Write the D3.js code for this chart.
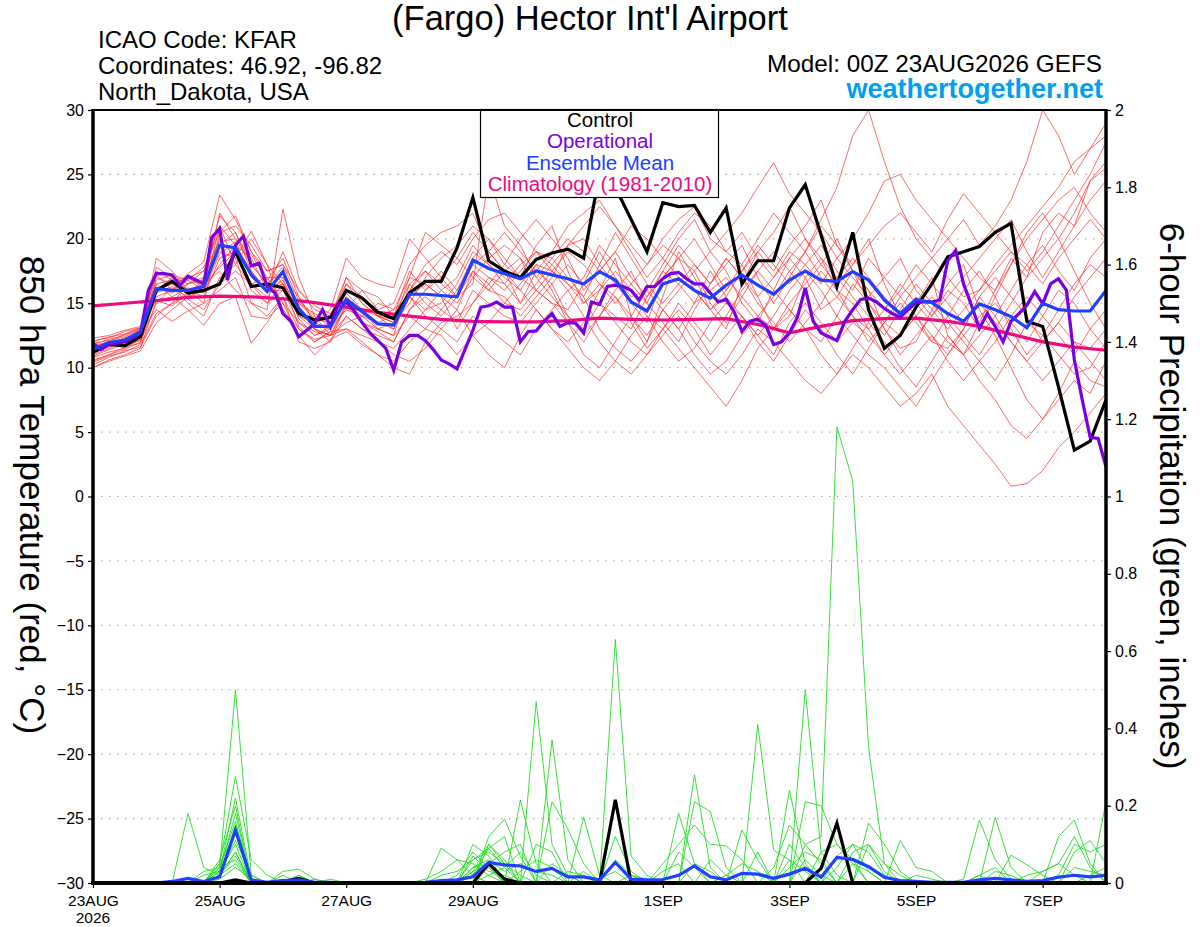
<!DOCTYPE html>
<html>
<head>
<meta charset="utf-8">
<script src="https://d3js.org/d3.v7.min.js"></script>
<style>
body { margin: 0; background: #fff; }
svg { font-family: "Liberation Sans", Arial, Helvetica, sans-serif; }
</style>
</head>
<body>
<div id="chart"></div>
<script>
// axis ticks
const tempTicks = [-30, -25, -20, -15, -10, -5, 0, 5, 10, 15, 20, 25, 30];
const precipTicks = [0, 0.2, 0.4, 0.6, 0.8, 1, 1.2, 1.4, 1.6, 1.8, 2];
const dateTicks = ["2026-08-23", "2026-08-25", "2026-08-27", "2026-08-29", "2026-09-01", "2026-09-03", "2026-09-05", "2026-09-07"];
const dateLabels = ["23AUG", "25AUG", "27AUG", "29AUG", "1SEP", "3SEP", "5SEP", "7SEP"];

// 6-hourly control run, 850 hPa temperature (C)
const controlTemp = [11.2,11.8,11.7,12.4, 16.0,16.7,15.8,16.0, 16.5,19.0,16.3,16.5, 16.2,14.2,13.7,13.9,
  16.0,15.4,14.3,13.8, 15.8,16.7,16.7,19.3, 23.2,18.3,17.5,17.0, 18.4,18.9,19.2,18.5,
  25.0,24.0,21.5,19.0, 22.8,22.5,22.6,20.5, 22.4,16.5,18.3,18.3, 22.4,24.2,20.3,16.3,
  20.5,14.5,11.5,12.5, 14.7,16.5,18.6,19.0, 19.4,20.5,21.2,13.6, 13.2,8.5,3.6,4.3, 7.5];

// 6-hourly ensemble mean temperature
const meanTemp = [11.4,11.95,12.15,12.8, 16.15,16.0,16.0,16.3, 19.5,19.3,17.2,15.9, 17.45,14.6,13.2,13.2,
  15.3,14.35,13.4,13.3, 15.7,15.7,15.6,15.5, 18.35,17.7,17.3,16.9, 17.5,17.2,16.9,16.5,
  17.45,16.8,15.1,14.4, 16.5,16.9,16.0,15.4, 16.4,17.2,16.4,15.7, 16.8,17.5,16.8,16.7,
  17.45,16.8,15.25,14.2, 15.3,15.05,14.2,13.6, 14.95,14.5,13.96,13.1, 15.0,14.5,14.4,14.4, 16.0];

// 3-hourly operational run temperature
const operationalTemp = [11.9,11.4,11.8,11.9,12.0,12.3,12.7,16.0, 17.3,17.3,17.2,16.4,17.1,16.8,16.5,20.1,
  20.8,16.8,19.5,20.2,17.9,18.1,16.3,15.8, 14.2,13.6,12.4,12.9,13.4,14.5,13.2,15.0,
  15.1,14.4,13.5,12.7,12.1,11.5,9.8,12.0, 12.5,12.5,12.1,11.4,10.6,10.3,9.9,11.4,
  12.9,14.7,14.8,15.1,14.7,14.7,12.0,12.8, 12.85,13.6,14.2,13.2,13.5,13.45,12.7,15.1,
  14.9,16.3,16.4,16.3,16.0,15.25,16.3,16.3, 16.9,17.3,17.4,16.9,16.5,16.5,15.8,15.1,
  15.3,14.35,12.8,13.6,13.75,13.3,11.8,12.0, 12.7,13.9,16.2,13.6,12.7,12.4,12.1,13.6,
  14.5,15.3,15.4,15.1,14.6,14.2,13.9,14.5, 15.05,15.1,15.1,15.25,18.3,19.1,16.5,14.85,
  13.05,14.2,13.2,12.0,13.6,14.2,14.85,15.9, 14.95,16.5,16.9,16.0,10.6,7.5,4.6,4.5, 2.3];

// 12-hourly climatology (1981-2010)
const climoTemp = [14.8,15.0,15.2,15.45,15.55,15.5,15.35,15.05, 14.7,14.3,14.0,13.75,13.6,13.55,13.55,13.65,
  13.85,13.75,13.7,13.75,13.8,13.35,12.7,13.2, 13.65,13.8,13.85,13.6,13.2,12.6,12.0,11.6, 11.35];

// 6-hourly ensemble members, temperature
const tempMembers = [
  [10.5,11.0,11.4,12.0, 15.0,16.2,15.5,17.0, 21.8,20.5,18.0,16.5, 17.8,14.0,13.0,12.5, 14.8,13.5,12.8,12.0, 14.5,16.0,17.5,16.0, 18.5,20.0,18.5,17.0, 19.5,21.0,17.5,15.0, 16.0,18.5,14.0,12.0, 15.5,19.0,17.0,14.5, 13.0,16.5,19.0,17.5, 19.5,21.0,23.0,19.5, 18.0,20.0,16.5,14.0, 15.0,17.0,12.5,11.0, 13.5,16.0,18.5,17.0, 20.5,22.0,21.0,24.5, 26.0],
  [11.8,12.2,12.5,13.0, 17.5,16.8,16.0,15.5, 18.5,19.0,16.0,15.0, 16.0,13.5,12.5,13.0, 15.5,14.5,13.0,12.5, 16.5,17.5,16.0,15.0, 17.0,16.0,15.5,14.0, 15.5,17.0,19.5,20.0, 18.0,16.5,15.0,13.5, 17.0,18.5,16.0,14.5, 16.0,18.0,15.5,13.0, 14.0,17.0,18.5,16.0, 15.0,13.0,11.0,12.5, 14.0,12.0,11.5,13.0, 15.5,14.0,12.0,10.5, 9.0,10.5,12.0,11.5, 13.0],
  [10.2,10.8,11.3,11.6, 14.0,15.0,16.5,16.8, 20.0,18.5,20.6,18.0, 16.5,15.0,14.2,13.5, 17.0,16.0,14.5,15.0, 18.0,19.5,20.5,21.0, 22.0,19.0,17.5,18.5, 16.0,15.0,14.5,16.5, 19.0,17.0,15.5,16.0, 18.0,20.0,21.5,19.0, 17.5,15.0,13.5,16.0, 18.5,17.0,14.5,15.5, 17.5,16.0,13.0,11.5, 12.0,14.5,16.5,18.0, 14.5,12.5,10.0,7.5, 6.0,8.0,10.5,9.0, 8.5],
  [11.0,11.5,12.0,12.5, 18.5,17.5,16.0,16.5, 17.5,16.0,15.0,14.5, 22.3,17.0,14.0,12.5, 13.0,12.0,11.0,10.0, 9.5,12.0,13.5,14.0, 15.0,17.0,16.5,18.0, 19.0,18.5,17.0,15.5, 13.0,11.5,10.5,12.0, 14.5,13.0,11.0,9.5, 10.5,12.5,14.0,15.5, 17.5,19.0,21.5,24.0, 28.0,30.0,26.0,22.5, 20.0,18.5,17.0,15.5, 16.0,18.0,19.5,21.0, 22.5,24.0,26.0,27.0, 28.0],
  [12.3,12.5,12.9,13.2, 16.5,15.5,14.5,13.3, 15.0,15.5,11.9,13.5, 15.5,12.0,11.5,12.0, 14.0,13.0,12.0,11.5, 13.0,14.5,15.0,16.5, 19.0,18.0,16.5,15.0, 17.5,16.5,14.0,12.5, 14.0,16.0,17.5,15.0, 13.5,12.0,14.5,16.5, 18.5,17.0,15.0,13.5, 12.0,13.5,15.0,17.0, 15.5,14.0,12.5,14.5, 16.5,15.0,13.5,12.0, 10.5,9.0,11.0,13.5, 12.5,11.0,9.5,10.0, 12.0],
  [10.8,11.2,11.5,12.2, 15.5,16.0,17.3,18.2, 23.4,21.5,19.0,17.0, 15.0,13.5,12.8,12.5, 13.5,14.0,15.0,14.5, 17.0,16.5,15.5,13.0, 15.0,16.5,18.0,20.0, 21.5,20.0,18.5,16.0, 17.5,19.0,21.0,20.0, 18.5,17.0,16.0,14.5, 15.5,17.5,19.0,20.5, 22.5,20.0,18.0,16.5, 18.0,19.5,21.0,22.0, 20.5,19.0,21.5,23.5, 22.0,20.5,19.0,17.5, 19.0,21.0,23.0,25.0, 27.5],
  [11.5,11.9,12.3,12.7, 14.5,13.6,14.4,15.0, 16.0,17.0,14.0,13.8, 15.0,12.5,11.0,12.2, 12.8,11.8,11.0,10.5, 12.0,13.0,12.5,11.0, 12.5,11.0,10.0,12.5, 14.5,13.0,11.5,10.0, 9.0,10.5,12.5,14.0, 13.0,11.5,10.0,8.5, 7.0,9.0,11.5,13.0, 14.5,13.0,11.0,9.5, 11.5,13.5,12.0,10.0, 8.5,10.5,12.5,11.0, 9.0,7.5,5.5,4.5, 6.0,7.5,9.0,8.0, 10.5],
  [12.0,12.4,12.6,13.0, 16.0,17.0,16.5,17.0, 19.5,20.5,17.5,16.0, 19.0,16.0,14.5,14.0, 16.5,15.0,14.0,13.5, 16.0,18.0,19.0,18.0, 20.0,21.5,22.0,20.5, 19.0,18.0,19.5,21.0, 22.5,21.0,19.5,18.0, 20.0,21.5,22.5,20.0, 19.0,20.5,18.5,17.0, 19.0,18.0,16.5,18.5, 20.0,22.0,24.5,25.0, 23.0,21.5,20.0,18.5, 17.0,16.0,18.0,20.0, 21.5,23.0,24.0,22.0, 20.5],
  [10.0,10.5,10.9,11.3, 13.5,14.5,15.5,16.0, 18.0,19.5,18.5,16.0, 16.5,14.5,13.0,12.5, 15.0,14.5,13.5,13.0, 15.5,14.0,13.0,12.0, 14.0,13.0,12.0,11.0, 13.0,14.5,16.0,14.0, 12.0,10.5,9.5,11.0, 12.5,14.0,12.0,10.5, 9.5,11.0,13.0,12.0, 10.5,9.0,8.0,9.5, 11.0,10.0,8.5,7.0, 8.0,9.5,7.0,5.5, 4.0,2.5,0.8,1.0, 2.0,3.8,5.0,6.5, 8.0],
  [11.3,11.7,12.0,12.4, 17.0,16.5,17.0,17.5, 21.0,18.0,16.5,15.5, 17.0,15.5,13.5,14.5, 18.5,17.0,16.5,16.2, 20.0,18.5,17.0,15.5, 16.5,24.9,21.0,19.5, 17.0,15.5,14.0,13.0, 15.0,14.0,13.0,15.5, 17.5,16.5,15.0,16.0, 17.0,15.5,14.0,13.0, 15.0,16.5,18.0,20.0, 17.5,15.0,13.0,11.0, 12.5,14.0,16.0,15.0, 13.0,15.5,18.0,20.5, 22.0,20.0,17.5,15.0, 13.0],
  [10.6,11.0,11.6,11.9, 15.8,16.3,15.0,14.0, 17.0,18.0,20.0,18.0, 14.5,13.0,12.0,12.8, 13.0,12.5,12.0,11.0, 10.5,11.5,13.0,14.5, 12.5,13.5,15.0,16.5, 18.0,16.0,13.5,11.0, 10.0,12.0,14.0,16.0, 14.5,13.0,15.0,17.5, 15.5,14.0,12.0,10.5, 12.5,14.5,13.0,11.0, 9.5,11.5,13.5,15.0, 13.5,12.0,14.0,16.0, 17.5,15.5,13.0,11.0, 12.5,14.5,16.5,18.0, 17.0],
  [11.9,12.1,12.4,12.9, 16.8,17.2,16.8,16.0, 18.8,19.8,17.0,16.0, 16.0,15.0,13.8,13.5, 15.0,13.5,13.0,13.5, 15.0,17.0,18.5,19.5, 21.0,20.0,18.0,17.0, 16.0,17.5,19.0,18.0, 16.5,15.0,16.5,18.0, 19.5,18.5,17.5,19.0, 20.5,22.0,24.0,25.9, 23.5,22.0,20.5,18.5, 17.0,15.5,17.0,18.5, 16.0,14.5,13.0,14.5, 16.0,17.5,19.0,18.0, 16.5,18.5,20.0,21.5, 20.0],
  [10.4,10.9,11.2,11.8, 14.2,15.0,15.6,16.2, 19.0,18.5,15.0,14.0, 15.5,13.0,12.2,12.5, 14.0,13.0,12.5,12.0, 14.5,15.5,14.5,13.5, 16.0,15.0,14.0,13.5, 15.0,16.5,18.0,16.5, 15.0,13.5,12.0,11.0, 13.0,15.0,13.5,12.0, 14.0,16.0,17.5,16.0, 14.5,13.0,12.0,14.0, 16.5,15.0,13.5,12.5, 14.0,15.5,14.0,12.5, 11.0,13.0,15.0,17.0, 18.5,20.0,22.0,24.5, 25.5],
  [11.2,11.6,12.0,12.5, 17.8,17.0,16.0,15.0, 20.5,21.0,19.5,17.5, 18.0,16.0,14.8,14.2, 16.0,15.5,14.0,13.5, 17.0,20.5,19.5,18.5, 17.0,18.5,19.5,18.5, 17.0,18.5,20.0,19.0, 17.5,19.0,17.0,15.5, 17.0,18.5,20.0,18.0, 16.0,17.5,19.5,18.0, 16.5,18.0,19.5,17.5, 16.0,18.5,17.0,15.5, 17.0,18.5,20.0,21.5, 19.5,21.0,23.0,26.0, 30.0,28.0,25.0,27.0, 29.0],
  [12.1,12.3,12.8,13.1, 15.2,14.8,15.8,16.5, 17.8,19.0,16.5,17.0, 17.0,13.8,12.5,13.2, 15.8,14.5,14.0,14.5, 15.5,14.5,16.0,17.0, 19.5,18.0,17.0,16.0, 14.5,13.0,12.0,13.5, 16.0,17.5,16.0,14.0, 12.0,10.5,11.5,13.5, 15.0,14.0,12.5,14.0, 16.0,17.5,16.0,14.0, 12.5,11.0,10.0,8.5, 7.0,9.0,11.0,12.5, 14.0,15.0,13.5,12.0, 14.0,16.0,15.0,13.0, 11.5],
  [10.9,11.4,11.8,12.1, 16.2,15.8,16.5,17.5, 19.8,20.0,18.8,16.8, 18.5,15.5,13.5,13.0, 14.5,16.0,15.5,14.0, 16.5,15.0,14.0,15.5, 17.5,16.0,17.5,15.0, 16.5,18.0,16.5,15.5, 18.0,20.5,18.5,16.5, 15.0,16.5,18.0,16.5, 18.0,19.5,17.0,15.0, 17.0,19.0,21.0,19.5, 17.5,16.0,14.5,16.0, 18.0,16.5,15.0,13.5, 15.0,13.5,12.0,10.5, 12.0,13.5,12.0,10.5, 9.0],
  [11.6,12.0,12.2,12.6, 16.5,16.8,17.0,16.2, 22.0,20.0,18.0,16.5, 17.5,14.5,13.0,12.0, 15.0,14.0,13.0,12.5, 14.0,13.0,14.5,16.0, 18.0,19.0,17.5,16.0, 18.0,17.5,16.5,15.0, 16.5,15.5,14.0,12.5, 14.5,16.0,17.5,15.0, 13.5,15.5,17.5,19.0, 17.5,16.0,17.5,16.0, 14.0,12.0,13.5,15.5, 14.0,12.5,11.0,13.0, 15.5,17.0,15.5,14.0, 12.0,13.5,15.5,17.0, 18.5],
  [11.4,11.8,12.2,12.9, 16.0,16.5,15.3,14.5, 16.5,17.5,16.5,15.0, 16.5,14.0,13.5,14.0, 17.0,15.0,14.0,13.0, 16.0,17.5,16.5,15.5, 18.0,17.0,16.0,17.5, 19.0,17.5,16.0,17.0, 19.5,18.0,16.5,15.0, 17.5,19.5,18.0,16.5, 18.5,17.0,15.5,17.0, 18.5,20.0,18.5,17.0, 18.5,17.0,15.5,14.0, 15.5,14.0,15.5,17.0, 18.5,20.0,21.5,19.0, 17.0,19.0,21.0,23.0, 24.5],
  [10.0,10.6,11.0,11.5, 15.2,15.5,16.2,15.8, 21.0,19.5,17.5,15.8, 16.8,13.2,12.0,12.8, 16.5,15.5,14.0,13.8, 15.5,16.5,15.5,14.5, 17.5,16.5,15.0,14.5, 16.0,15.0,13.5,12.0, 14.0,15.5,13.5,11.5, 13.0,14.5,13.0,11.0, 12.5,14.0,12.5,11.0, 13.5,15.0,13.5,12.0, 13.5,12.5,11.0,9.5, 11.0,12.5,10.5,9.0, 10.5,12.0,14.0,15.5, 14.0,12.5,11.0,13.0, 14.5],
  [11.7,12.0,12.6,13.1, 17.2,16.0,16.8,17.8, 20.5,21.8,19.0,17.5, 18.0,15.2,14.0,13.2, 14.5,14.0,13.5,14.0, 17.5,16.0,17.0,18.5, 20.5,19.0,20.5,19.0, 17.5,19.0,21.0,22.0, 23.0,21.0,19.0,17.0, 18.5,20.5,22.0,21.0, 19.0,18.0,20.0,22.0, 20.5,19.0,17.0,15.5, 14.0,13.0,14.5,16.5, 15.0,13.5,12.0,11.0, 12.5,14.0,16.0,18.0, 19.5,17.5,16.0,18.5, 20.0]
];

// 6-hourly precipitation (inches)
const controlPrecip = [0,0,0,0,0,0,0,0, 0,0.008,0,0,0.004,0.012,0,0, 0,0,0,0,0,0,0,0, 0,0.05,0.01,0,0,0,0,0,
  0,0.215,0,0,0,0,0,0, 0,0,0,0,0,0,0.038,0.155, 0,0,0,0,0,0,0,0, 0,0,0,0,0,0,0,0, 0];
const meanPrecip = [0,0,0,0,0,0.004,0.012,0.004, 0.016,0.137,0.008,0.002,0.006,0.008,0.002,0.002, 0,0,0,0,0,0.002,0.006,0.008,
  0.016,0.053,0.047,0.044,0.03,0.038,0.016,0.016, 0.008,0.053,0.01,0.008,0.009,0.02,0.044,0.016,
  0.008,0.025,0.023,0.012,0.023,0.038,0.015,0.066, 0.061,0.042,0.015,0.006,0.004,0.002,0.002,0.002,
  0.008,0.012,0.008,0.004,0.006,0.015,0.02,0.016, 0.02];
const precipMembers = [
  [0,0,0,0,0,0,0.18,0.04, 0.02,0.08,0,0,0,0,0,0, 0,0,0,0,0,0,0,0, 0,0.1,0.06,0,0.47,0.1,0.02,0, 0,0,0,0,0,0,0,0, 0,0,0.08,0,0,0.06,0.02,0, 0,0,0,0,0,0,0,0, 0,0,0,0,0,0,0.08,0.11, 0.05],
  [0,0,0,0,0,0,0,0, 0.04,0.5,0.02,0,0,0,0,0, 0,0,0,0,0,0,0,0, 0.03,0.05,0,0,0,0,0,0, 0,0.63,0.07,0.02,0,0,0,0, 0,0,0,0,0,0,0,0.07, 0.1,0.03,0,0,0,0,0,0, 0.02,0,0,0,0,0,0,0, 0],
  [0,0,0,0,0,0,0,0, 0.05,0.275,0.06,0.02,0,0,0,0, 0,0,0,0,0,0,0.09,0.06, 0.02,0,0,0,0,0.37,0.06,0, 0,0,0,0,0,0,0.28,0.04, 0,0,0,0,0,0.5,0.08,0.02, 0,0,0,0,0,0,0,0, 0,0.17,0.04,0,0,0,0,0, 0],
  [0,0,0,0,0,0,0,0.02, 0.03,0.22,0.01,0,0.03,0.036,0.01,0, 0,0,0,0,0,0,0,0, 0,0.12,0.165,0.07,0,0,0,0, 0,0,0,0,0,0.18,0.05,0, 0,0,0,0,0,0.1,0.12,1.18, 1.04,0.35,0.05,0.02,0,0,0,0, 0,0,0,0,0,0,0,0, 0],
  [0,0,0,0,0,0,0,0, 0.06,0.2,0,0,0,0,0,0, 0,0,0,0,0,0,0,0, 0.1,0.07,0,0.215,0.05,0,0,0.17, 0.02,0,0,0,0,0,0,0, 0,0,0,0,0.24,0.05,0,0, 0,0.155,0.1,0.03,0,0,0,0, 0,0,0,0,0,0.12,0.163,0.05, 0],
  [0,0,0,0,0,0,0,0, 0.03,0.18,0,0,0,0.02,0,0, 0,0,0,0,0,0,0,0, 0.06,0.09,0.12,0,0,0.21,0.14,0.05, 0,0,0,0,0,0,0.21,0.185, 0.04,0,0,0,0,0,0,0, 0.08,0.1,0.03,0,0,0,0,0, 0,0,0,0,0,0,0,0, 0.21],
  [0,0,0,0,0,0,0,0.03, 0.04,0.16,0,0,0.01,0,0,0.01, 0,0,0,0,0,0,0,0, 0.04,0.05,0.08,0.1,0,0,0,0, 0,0.12,0.03,0,0,0,0,0, 0,0.137,0.06,0,0,0.21,0.2,0.1, 0.06,0,0,0,0,0,0,0, 0,0,0.072,0.047,0.02,0,0,0, 0],
  [0,0,0,0,0,0,0,0, 0.02,0.15,0.01,0,0,0,0,0, 0,0,0,0,0,0,0,0.02, 0.08,0.04,0,0,0.1,0.08,0,0, 0,0,0,0,0.05,0.1,0.15,0.1, 0.096,0.06,0,0,0,0,0,0, 0,0,0,0.11,0.04,0.03,0,0, 0,0,0,0,0,0,0,0, 0],
  [0,0,0,0,0,0,0,0, 0.05,0.13,0,0,0,0,0,0, 0,0,0,0,0,0.01,0.03,0.06, 0.05,0.02,0,0,0,0,0,0, 0,0.06,0.02,0,0,0,0,0, 0,0,0.41,0.085,0.06,0,0,0, 0,0,0,0,0,0,0,0, 0.02,0.04,0,0,0.03,0.05,0.12,0.04, 0],
  [0,0,0,0,0,0,0,0, 0.03,0.11,0.02,0,0,0.02,0,0, 0,0,0,0,0,0,0,0, 0.07,0.03,0.02,0,0,0,0.03,0.02, 0,0,0,0,0.03,0.05,0,0, 0,0,0,0.04,0.15,0.1,0.05,0, 0,0.1,0.05,0,0,0,0,0, 0,0,0,0,0,0.02,0.1,0.08, 0.1],
  [0,0,0,0,0,0,0,0, 0.02,0.08,0,0,0,0,0,0, 0,0,0,0,0,0,0,0, 0.04,0.06,0.03,0.05,0.03,0.02,0,0, 0,0,0,0,0,0,0,0.06, 0.02,0,0,0,0.1,0.04,0,0, 0,0,0,0,0,0,0,0.01, 0.163,0.06,0.01,0,0,0,0,0, 0],
  [0,0,0,0,0,0,0,0, 0.04,0.06,0,0,0,0.01,0,0, 0,0,0,0,0,0,0,0, 0.02,0.09,0.04,0,0,0,0,0, 0.01,0.03,0,0,0,0.08,0.04,0, 0,0,0,0,0,0,0.08,0.1, 0.05,0,0,0,0,0,0,0, 0,0,0,0.02,0.03,0.05,0.02,0, 0],
  [0,0,0,0,0,0,0,0, 0.02,0.05,0,0,0.02,0,0.01,0, 0,0,0,0,0,0,0,0, 0.03,0.1,0.05,0.02,0,0,0,0, 0,0,0,0,0,0,0,0, 0.02,0.05,0.03,0,0,0,0,0.04, 0.1,0.08,0.02,0,0,0,0,0, 0,0,0,0,0,0,0,0.02, 0.04],
  [0,0,0,0,0,0,0,0, 0.01,0.04,0.01,0,0,0,0,0, 0,0,0,0,0,0,0.02,0.03, 0.06,0.08,0.05,0,0,0.05,0.02,0, 0,0,0,0,0,0,0,0, 0,0,0,0,0.04,0.08,0.06,0, 0,0,0,0,0,0,0,0, 0,0.03,0.02,0,0,0,0,0, 0],
  [0,0,0,0,0,0,0,0, 0.03,0.1,0,0,0,0,0,0, 0,0,0,0,0,0,0,0, 0.02,0.04,0,0.03,0.06,0.04,0,0, 0,0,0.02,0.01,0,0,0.05,0.03, 0,0,0,0,0,0,0,0, 0.05,0.03,0,0,0.02,0.01,0,0, 0,0,0,0,0,0,0,0, 0],
  [0,0,0,0,0,0,0,0, 0.02,0.07,0,0,0,0,0,0, 0,0,0,0,0,0,0,0, 0,0.02,0.04,0.08,0.02,0,0,0.03, 0,0,0,0,0,0,0,0, 0,0,0,0,0.06,0.03,0,0, 0,0,0,0,0,0,0,0, 0,0,0,0,0,0,0.04,0.03, 0.02]
];

const t0 = Date.UTC(2026, 7, 23, 0);
const timeAt = (i, hours) => new Date(t0 + i * hours * 3600000);

const svg = d3.select("#chart").append("svg")
    .attr("width", 1200)
    .attr("height", 927);

const plot = {left: 93, right: 1106, top: 110, bottom: 883};

const x = d3.scaleUtc()
    .domain([timeAt(0, 6), timeAt(64, 6)])
    .range([plot.left, plot.right]);
const yT = d3.scaleLinear().domain([-30, 30]).range([plot.bottom, plot.top]);
const yP = d3.scaleLinear().domain([0, 2]).range([plot.bottom, plot.top]);

svg.append("clipPath").attr("id", "clip")
    .append("rect")
    .attr("x", plot.left).attr("y", plot.top)
    .attr("width", plot.right - plot.left).attr("height", plot.bottom - plot.top);

// dotted grid
svg.append("g").selectAll("line")
    .data(tempTicks.filter(d => d > -30 && d < 30))
    .enter().append("line")
    .attr("x1", plot.left).attr("x2", plot.right)
    .attr("y1", d => yT(d)).attr("y2", d => yT(d))
    .attr("stroke", "#aaa")
    .attr("stroke-width", 1.2)
    .attr("stroke-dasharray", "1.5,6.5");

const lineOf = (scale, hours) => d3.line()
    .x((d, i) => x(timeAt(i, hours)))
    .y(d => scale(d));

const lines = svg.append("g").attr("clip-path", "url(#clip)");

lines.selectAll(".tmem")
    .data(tempMembers)
    .enter().append("path")
    .attr("class", "tmem")
    .attr("fill", "none")
    .attr("stroke", "#ff3030")
    .attr("stroke-opacity", 0.8)
    .attr("stroke-width", 0.9)
    .attr("d", lineOf(yT, 6));

lines.selectAll(".pmem")
    .data(precipMembers)
    .enter().append("path")
    .attr("class", "pmem")
    .attr("fill", "none")
    .attr("stroke", "#22dd22")
    .attr("stroke-width", 0.9)
    .attr("d", lineOf(yP, 6));

const thick = [
    {data: controlPrecip, scale: yP, hours: 6, color: "#000"},
    {data: meanPrecip, scale: yP, hours: 6, color: "#2040ff"},
    {data: climoTemp, scale: yT, hours: 12, color: "#ee0a80"},
    {data: controlTemp, scale: yT, hours: 6, color: "#000"},
    {data: operationalTemp, scale: yT, hours: 3, color: "#7a00e0"},
    {data: meanTemp, scale: yT, hours: 6, color: "#2040ff"}
];
thick.forEach(s => {
    lines.append("path")
        .datum(s.data)
        .attr("fill", "none")
        .attr("stroke", s.color)
        .attr("stroke-width", 3.2)
        .attr("d", lineOf(s.scale, s.hours));
});

// legend
const legend = svg.append("g");
legend.append("rect")
    .attr("x", 480.5).attr("y", 109.5)
    .attr("width", 238).attr("height", 88)
    .attr("fill", "#fff").attr("stroke", "#000").attr("stroke-width", 1.2);
const legendItems = [
    {label: "Control", color: "#000"},
    {label: "Operational", color: "#7a00e0"},
    {label: "Ensemble Mean", color: "#2040ff"},
    {label: "Climatology (1981-2010)", color: "#ee0a80"}
];
legend.selectAll("text")
    .data(legendItems)
    .enter().append("text")
    .attr("x", 600)
    .attr("y", (d, i) => 127 + i * 21.4)
    .attr("text-anchor", "middle")
    .attr("font-size", 20.5)
    .attr("fill", d => d.color)
    .text(d => d.label);

// axes
const styleAxis = size => g => {
    g.attr("font-family", null).attr("font-size", null);
    g.select(".domain").remove();
    g.selectAll("line").attr("stroke", "#000").attr("stroke-width", 1.2);
    g.selectAll("text").attr("font-size", size).attr("fill", "#000");
};

svg.append("g")
    .attr("transform", `translate(${plot.left},0)`)
    .call(d3.axisLeft(yT).tickValues(tempTicks).tickSize(5).tickPadding(4))
    .call(styleAxis(16));

svg.append("g")
    .attr("transform", `translate(${plot.right},0)`)
    .call(d3.axisRight(yP).tickValues(precipTicks).tickSize(5).tickPadding(4).tickFormat(d => String(d)))
    .call(styleAxis(16));

svg.append("g")
    .attr("transform", `translate(0,${plot.bottom})`)
    .call(d3.axisBottom(x)
        .tickValues(dateTicks.map(d => new Date(d + "T00:00:00Z")))
        .tickFormat((d, i) => dateLabels[i])
        .tickSize(5).tickPadding(6.5))
    .call(styleAxis(15.5));

svg.append("text")
    .attr("x", x(timeAt(0, 6)))
    .attr("y", 923.3)
    .attr("text-anchor", "middle")
    .attr("font-size", 15.5)
    .text("2026");

// frame
const frame = svg.append("g").attr("stroke", "#000");
frame.append("line").attr("x1", plot.left).attr("x2", plot.right).attr("y1", plot.top).attr("y2", plot.top).attr("stroke-width", 2);
frame.append("line").attr("x1", plot.left - 2).attr("x2", plot.right + 2).attr("y1", plot.bottom).attr("y2", plot.bottom).attr("stroke-width", 4);
frame.append("line").attr("x1", plot.left).attr("x2", plot.left).attr("y1", plot.top - 1).attr("y2", plot.bottom).attr("stroke-width", 3.5);
frame.append("line").attr("x1", plot.right).attr("x2", plot.right).attr("y1", plot.top - 1).attr("y2", plot.bottom).attr("stroke-width", 3.5);

// titles
svg.append("text")
    .attr("x", 590).attr("y", 30)
    .attr("text-anchor", "middle")
    .attr("font-size", 34.5)
    .text("(Fargo) Hector Int'l Airport");

const info = ["ICAO Code: KFAR", "Coordinates: 46.92, -96.82", "North_Dakota, USA"];
svg.selectAll(".info")
    .data(info)
    .enter().append("text")
    .attr("class", "info")
    .attr("x", 98)
    .attr("y", (d, i) => 48 + i * 26)
    .attr("font-size", 24)
    .text(d => d);

svg.append("text")
    .attr("x", 1102).attr("y", 72)
    .attr("text-anchor", "end")
    .attr("font-size", 24.3)
    .text("Model: 00Z 23AUG2026 GEFS");

svg.append("text")
    .attr("x", 1103).attr("y", 98)
    .attr("text-anchor", "end")
    .attr("font-size", 27)
    .attr("font-weight", "bold")
    .attr("fill", "#00a0f0")
    .text("weathertogether.net");

svg.append("text")
    .attr("transform", "translate(20,495) rotate(90)")
    .attr("text-anchor", "middle")
    .attr("font-size", 35)
    .text("850 hPa Temperature (red, °C)");

svg.append("text")
    .attr("transform", "translate(1160,496) rotate(90)")
    .attr("text-anchor", "middle")
    .attr("font-size", 35)
    .text("6-hour Precipitation (green, inches)");
</script>
</body>
</html>
